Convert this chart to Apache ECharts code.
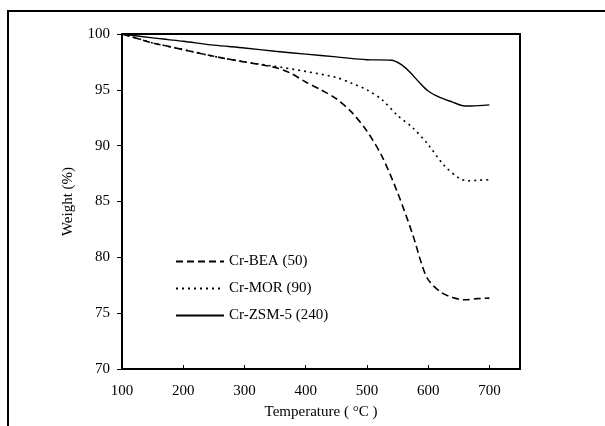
<!DOCTYPE html>
<html>
<head>
<meta charset="utf-8">
<script src="https://cdn.jsdelivr.net/npm/echarts@6/dist/echarts.min.js"></script>
<style>
  html, body { margin: 0; padding: 0; background: #fff; }
  .tga { width: 605px; height: 426px; }
</style>
</head>
<body>
<div class="tga"></div>
<script>
// 热重曲线数据 (温度 °C, 重量 %)
var beaT = [100, 125, 150, 175, 200, 250, 300, 350, 375, 400, 425, 450, 475, 500, 525, 550, 575, 590, 600, 620, 640, 660, 680, 700];
var beaW = [100, 99.6, 99.2, 98.9, 98.6, 98.0, 97.5, 97.0, 96.5, 95.7, 95.0, 94.2, 93.0, 91.3, 89.0, 85.8, 82.0, 79.3, 78.0, 76.9, 76.4, 76.2, 76.3, 76.35];

var morT = [100, 125, 150, 175, 200, 250, 300, 350, 400, 450, 475, 500, 525, 550, 575, 600, 625, 650, 665, 680, 700];
var morW = [100, 99.6, 99.2, 98.9, 98.6, 98.0, 97.5, 97.1, 96.65, 96.1, 95.6, 95.0, 94.1, 92.7, 91.6, 90.1, 88.3, 87.1, 86.85, 86.9, 86.95];

var zsmT = [100, 150, 175, 200, 250, 300, 350, 400, 450, 500, 540, 555, 570, 585, 600, 620, 640, 655, 670, 700];
var zsmW = [100, 99.65, 99.5, 99.35, 99.0, 98.75, 98.45, 98.2, 97.95, 97.7, 97.65, 97.3, 96.6, 95.7, 94.9, 94.3, 93.9, 93.6, 93.55, 93.65];

var names = ["Cr-BEA (50)", "Cr-MOR (90)", "Cr-ZSM-5 (240)"];

function pairs(t, w) {
  return t.map(function (v, i) { return [v, w[i]]; });
}

(function () {
  var myChart = echarts.init(document.querySelector(".tga"));
  var font = "Liberation Serif";

  option = {
    animation: false,
    backgroundColor: "#fff",
    textStyle: { fontFamily: font, color: "#000" },
    graphic: [
      {
        type: "rect",
        shape: { x: 8, y: 11, width: 700, height: 500 },
        style: { fill: "none", stroke: "#000", lineWidth: 2 }
      }
    ],
    grid: {
      left: 122,
      top: 34,
      right: 85,
      bottom: 57,
      show: true,
      borderColor: "#000",
      borderWidth: 2
    },
    legend: {
      orient: "vertical",
      left: 170,
      top: 249,
      itemWidth: 48,
      itemHeight: 10,
      itemGap: 12,
      itemStyle: { opacity: 0 },
      textStyle: { fontFamily: font, fontSize: 15, color: "#000" },
      data: names
    },
    xAxis: {
      type: "value",
      min: 100,
      max: 750,
      interval: 100,
      name: "Temperature ( °C )",
      nameLocation: "middle",
      nameGap: 36,
      nameTextStyle: { fontFamily: font, fontSize: 15, color: "#000" },
      axisLine: { show: true, lineStyle: { color: "#000", width: 2 } },
      axisTick: { show: true, inside: true, length: 4, lineStyle: { color: "#000" } },
      axisLabel: {
        margin: 15,
        fontFamily: font,
        fontSize: 15,
        color: "#000",
        formatter: function (v) { return v > 700 ? "" : v; }
      },
      splitLine: { show: false }
    },
    yAxis: {
      type: "value",
      min: 70,
      max: 100,
      interval: 5,
      name: "Weight (%)",
      nameLocation: "middle",
      nameGap: 46,
      nameTextStyle: { fontFamily: font, fontSize: 15, color: "#000" },
      axisLine: { show: true, lineStyle: { color: "#000", width: 2 } },
      axisTick: { show: true, length: 5, lineStyle: { color: "#000" } },
      axisLabel: { margin: 12, fontFamily: font, fontSize: 15, color: "#000" },
      splitLine: { show: false }
    },
    series: [
      {
        name: names[0],
        type: "line",
        showSymbol: false,
        symbol: "none",
        smooth: 0.3,
        lineStyle: { color: "#000", width: 1.6, type: [7, 4] },
        itemStyle: { color: "#000" },
        data: pairs(beaT, beaW)
      },
      {
        name: names[1],
        type: "line",
        showSymbol: false,
        symbol: "none",
        smooth: 0.3,
        lineStyle: { color: "#000", width: 1.6, type: [2, 4] },
        itemStyle: { color: "#000" },
        data: pairs(morT, morW)
      },
      {
        name: names[2],
        type: "line",
        showSymbol: false,
        symbol: "none",
        smooth: 0.3,
        lineStyle: { color: "#000", width: 1.4 },
        itemStyle: { color: "#000" },
        data: pairs(zsmT, zsmW)
      }
    ]
  };

  myChart.setOption(option);
  window.addEventListener("resize", function () {
    myChart.resize();
  });
})();
</script>
</body>
</html>
